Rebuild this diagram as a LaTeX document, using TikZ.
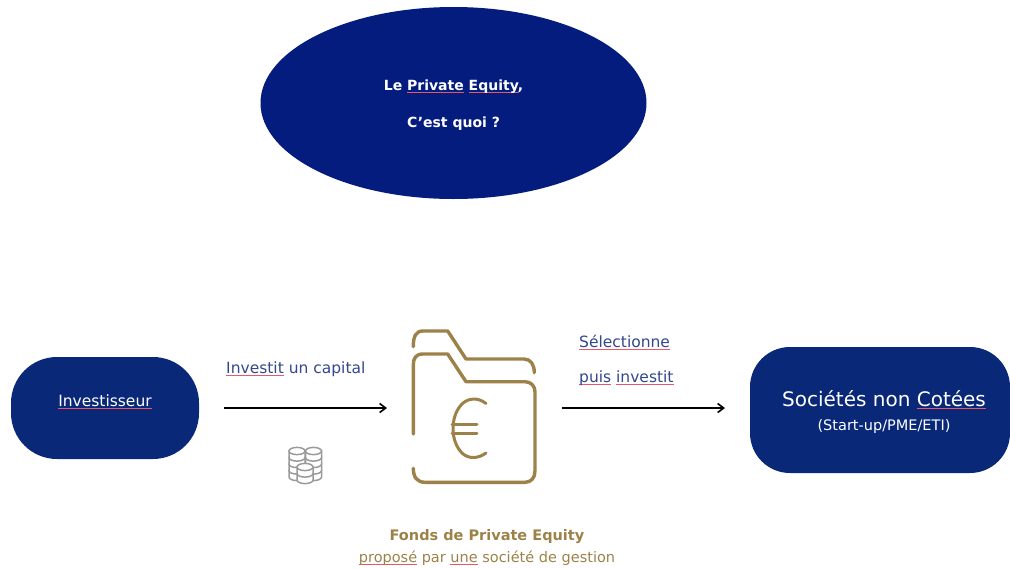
\documentclass[tikz,border=0pt]{standalone}
\usepackage{fontspec}
\setmainfont{DejaVu Sans}
\usetikzlibrary{shapes.geometric,arrows.meta}
\definecolor{ovalblue}{HTML}{051C7F}
\definecolor{boxblue}{HTML}{0A2878}
\definecolor{labelblue}{HTML}{33478C}
\definecolor{gold}{HTML}{9C8248}
\definecolor{spellred}{HTML}{E8566A}
\definecolor{coin}{HTML}{9A9A9A}
\newsavebox{\spellbox}
\newcommand{\spell}[1]{\sbox{\spellbox}{#1}\leavevmode\rlap{\textcolor{spellred}{\rule[-2.6pt]{\wd\spellbox}{0.9pt}}}#1}
\tikzset{
  x=1pt,y=-1pt,
  oval/.style={ellipse,fill=ovalblue,inner sep=0pt,minimum width=386pt,minimum height=192pt},
  pill/.style={rectangle,rounded corners=#1,fill=boxblue,inner sep=0pt},
  lbl/.style={inner sep=0pt,font=\fontsize{15.5}{18}\selectfont,text=labelblue,anchor=base west},
  goldline/.style={draw=gold,line width=3.4pt,line cap=round,line join=round},
  flow/.style={draw=black,line width=1.6pt,-{Straight Barb[length=6pt,width=9pt,line width=1.6pt]}},
  coinline/.style={draw=coin,line width=1.5pt,fill=white}
}
\newcommand{\coinstack}[4]{% cx, top y, rx, layers
  \foreach \k in {#4,...,1}{
    \path[coinline] (#1-#3,#2+\k*6.5-6.5) -- (#1-#3,#2+\k*6.5) arc[start angle=180,end angle=360,x radius=#3,y radius=-3.6] -- (#1+#3,#2+\k*6.5-6.5) -- cycle;
  }
  \path[coinline] (#1,#2) ellipse[x radius=#3,y radius=3.6];
}
\begin{document}
\begin{tikzpicture}
\useasboundingbox (0,0) rectangle (1010,568);
\node[oval] (title) at (453.5,103) {};
\node[inner sep=0pt,text=white,anchor=base,font=\fontsize{14}{16}\selectfont\bfseries] (t1) at (453.5,90.5) {Le \spell{Private} \spell{Equity},};
\node[inner sep=0pt,text=white,anchor=base,font=\fontsize{14}{16}\selectfont\bfseries] (t2) at (453.5,127.5) {C’est quoi ?};
\node[pill=46pt,minimum width=188pt,minimum height=102pt] (inv) at (105,408) {};
\node[inner sep=0pt,text=white,anchor=base,font=\fontsize{15.5}{18}\selectfont] (invt) at (105,406) {\spell{Investisseur}};
\node[pill=40pt,minimum width=260pt,minimum height=126pt] (soc) at (880,410) {};
\node[inner sep=0pt,text=white,anchor=base,font=\fontsize{20}{24}\selectfont] (soct) at (884,406) {Sociétés non \spell{Cotées}};
\node[inner sep=0pt,text=white,anchor=base,font=\fontsize{14.5}{18}\selectfont] (socs) at (884,430) {(Start-up/PME/ETI)};
\node[lbl] (l1) at (226,373) {\spell{Investit} un capital};
\node[lbl] (l2) at (579,347) {\spell{Sélectionne}};
\node[lbl] (l3) at (579,382) {\spell{puis} \spell{investit}};
\coordinate (a1) at (224,408);
\coordinate (a2) at (387,408);
\coordinate (b1) at (562,408);
\coordinate (b2) at (725,408);
\draw[flow] (a1) -- (a2);
\draw[flow] (b1) -- (b2);
% folder
\draw[goldline] (413.3,346.7) .. controls (413.3,336) and (416,331) .. (423,331) -- (447.7,331) -- (466,359) -- (524,359) .. controls (531,359) and (534.3,365) .. (534.3,372.7);
\draw[goldline] (413.3,434) -- (413.3,365) .. controls (413.3,358) and (416,354) .. (423,354) -- (447.7,354) -- (466,381.7) -- (525,381.7) .. controls (531,381.7) and (535,386) .. (535,392) -- (535,471) .. controls (535,478) and (531,482.3) .. (525,482.3) -- (425,482.3) .. controls (417,482.3) and (413.3,477) .. (413.3,468.3);
\draw[gold,line width=3pt,line cap=round] (486,403.5) .. controls (478,397) and (468,398) .. (462,404) .. controls (450,416) and (450,441) .. (462,453) .. controls (468,459) and (478,459) .. (486,453);
\draw[gold,line width=3pt,line cap=round] (452,424) -- (477,424);
\draw[gold,line width=3pt,line cap=round] (452,433.5) -- (477,433.5);
% coins
\coinstack{297}{451}{8}{4}
\coinstack{313.5}{451}{8}{4}
\coinstack{305}{467}{8}{2}
\node[inner sep=0pt,text=gold,anchor=base,font=\fontsize{14.5}{18}\selectfont\bfseries] (f1) at (487,540) {Fonds de Private Equity};
\node[inner sep=0pt,text=gold,anchor=base,font=\fontsize{14.5}{18}\selectfont] (f2) at (487,562) {\spell{proposé} par \spell{une} société de gestion};
\end{tikzpicture}
\end{document}
